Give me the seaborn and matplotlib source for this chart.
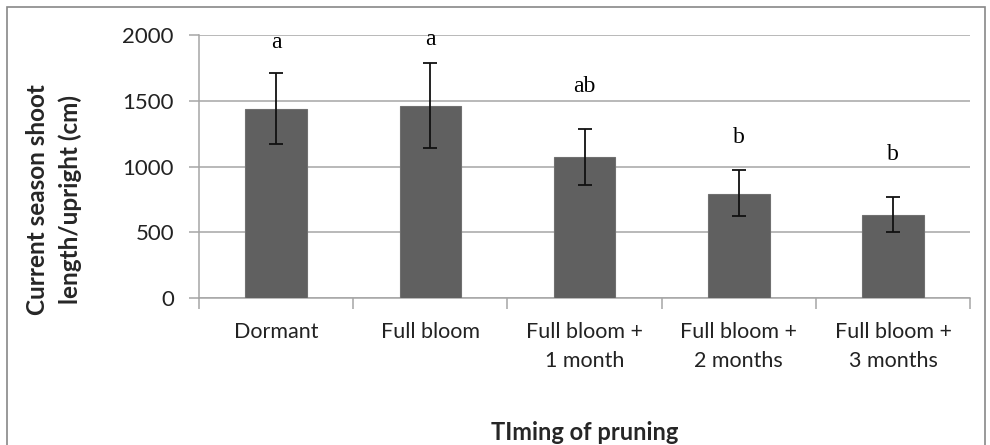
import matplotlib
matplotlib.use("Agg")
import matplotlib.pyplot as plt
import seaborn as sns
import pandas as pd
import numpy as np
from matplotlib.patches import Rectangle

categories = ["Dormant", "Full bloom", "Full bloom +\n1 month", "Full bloom +\n2 months", "Full bloom +\n3 months"]
means = [1440, 1465, 1070, 791, 636]
err_upper = [1713, 1792, 1287, 973, 770]
err_lower = [1176, 1141, 857, 624, 504]
letters = ["a", "a", "ab", "b", "b"]
letter_y = [1947, 1970, 1607, 1224, 1095]
yticks = [0, 500, 1000, 1500, 2000]

sns.set_theme(style="white")
plt.rcParams['font.family'] = ['Lato', 'DejaVu Sans']

fig = plt.figure(figsize=(9.9, 4.45), dpi=100)
ax = fig.add_axes([0.201, 0.330, 0.779, 0.591])

df = pd.DataFrame({"cat": categories, "val": means})
sns.barplot(data=df, x="cat", y="val", color="#606060", width=0.4,
            saturation=1, edgecolor="#707070", linewidth=0.8, ax=ax, zorder=3)

x = np.arange(len(categories))
yerr = np.array([np.array(means) - np.array(err_lower), np.array(err_upper) - np.array(means)])
ax.errorbar(x, means, yerr=yerr, fmt="none", ecolor="#111111", elinewidth=1.3,
            capsize=4.7, capthick=1.3, zorder=4)

for xi, lab, ly in zip(x, letters, letter_y):
    ax.text(xi, ly, lab, ha="center", va="center", fontsize=17,
            family=["Liberation Serif", "DejaVu Serif"], color="black")

ax.set_ylim(0, 2000)
ax.set_xlim(-0.5, len(categories) - 0.5)
ax.set_yticks(yticks)
ax.set_yticklabels([str(t) for t in yticks], fontsize=16, color="#222222")
ax.yaxis.grid(True, color="#a6a6a6", linewidth=1.1, zorder=0)
ax.set_axisbelow(True)
ax.tick_params(axis="y", length=7, width=1.1, color="#a6a6a6", pad=11, left=True)

ax.set_xticks(x)
ax.set_xticklabels(categories, fontsize=15.5, color="#222222", linespacing=1.6)
ax.tick_params(axis="x", length=0, pad=17)
ax.set_xticks(np.arange(-0.5, len(categories)), minor=True)
ax.tick_params(axis="x", which="minor", length=8, width=1.1, color="#a6a6a6", bottom=True)

for s in ["top", "right"]:
    ax.spines[s].set_visible(False)
for s in ["left", "bottom"]:
    ax.spines[s].set_color("#a6a6a6")
    ax.spines[s].set_linewidth(1.1)

ax.set_xlabel("TIming of pruning", fontsize=17, fontweight="bold", labelpad=36)
ax.set_ylabel("")
fig.text(54 / 990, 1 - 200 / 445, "Current season shoot\nlength/upright (cm)", rotation=90,
         ha="center", va="center", fontsize=17.5, fontweight="bold", linespacing=1.45,
         multialignment="center")

fig.patches.append(Rectangle((7/990, -0.1), 978/990, 1.1 - 7/445, transform=fig.transFigure,
                             fill=False, edgecolor="#888888", linewidth=1.2))

fig.savefig("out.png", dpi=100)
